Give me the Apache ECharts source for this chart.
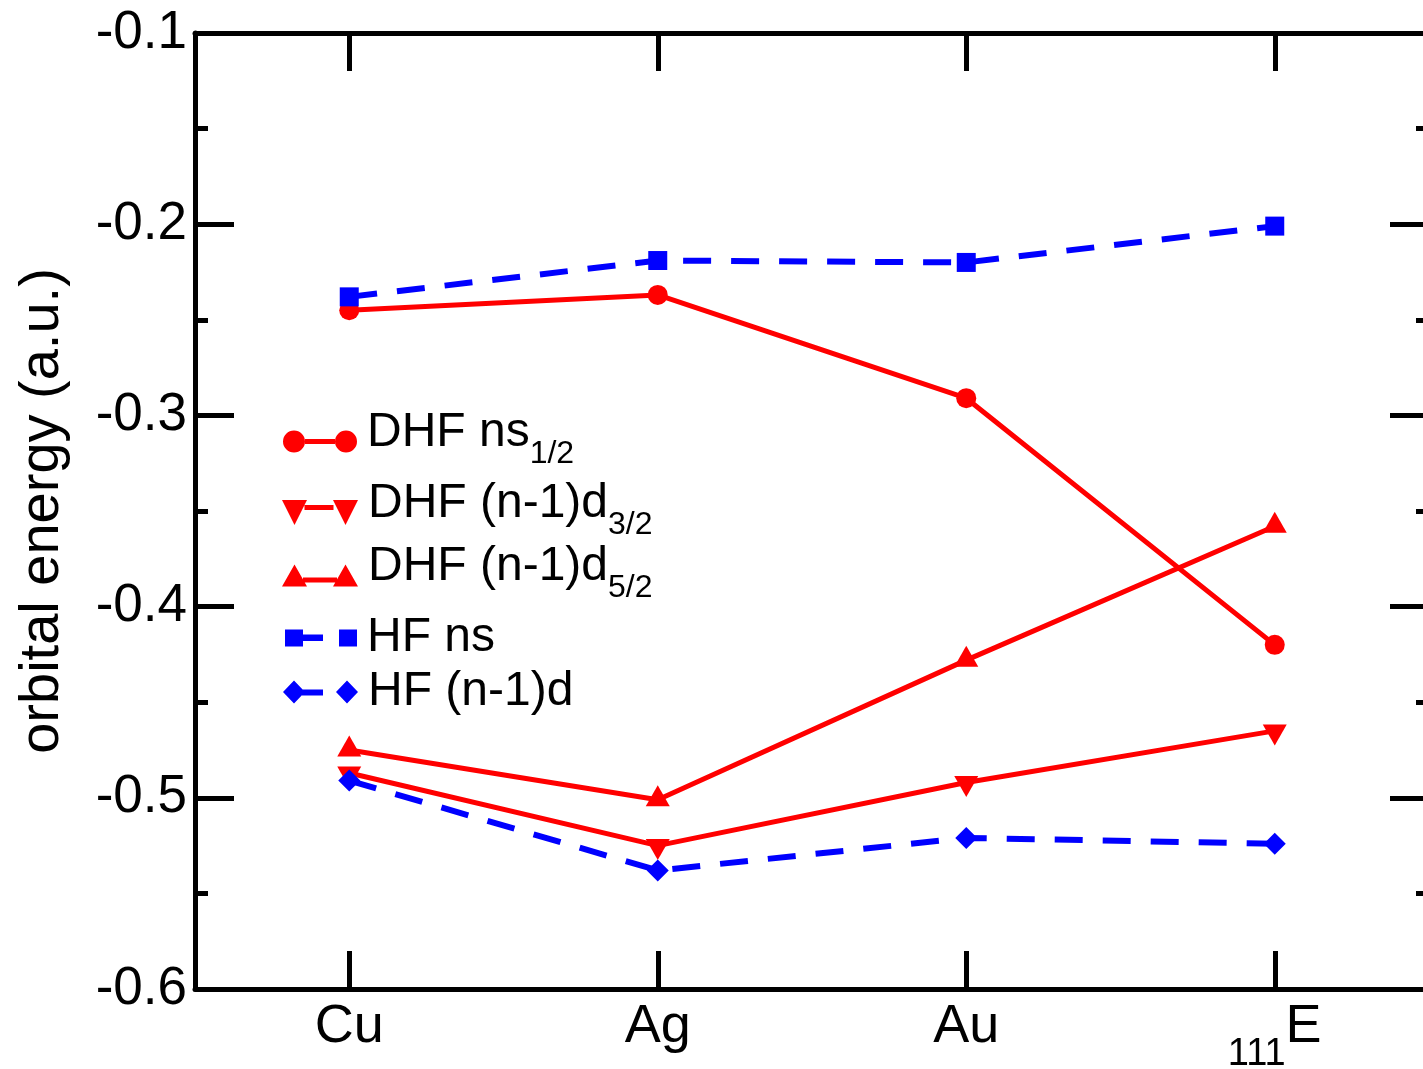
<!DOCTYPE html>
<html>
<head>
<meta charset="utf-8">
<script src="https://cdn.jsdelivr.net/npm/echarts@6/dist/echarts.min.js"></script>
<style>
  html, body { margin: 0; padding: 0; background: #ffffff; }
  #chart { width: 1423px; height: 1069px; }
</style>
</head>
<body>
<div id="chart"></div>
<script>
// Group 11 elements along the x axis
const elements = ['Cu', 'Ag', 'Au', '111E'];

// Orbital energies (a.u.)
const dhfNs12 = [-0.245, -0.237, -0.291, -0.420];
const dhfD32  = [-0.487, -0.525, -0.492, -0.465];
const dhfD52  = [-0.475, -0.501, -0.428, -0.358];
const hfNs    = [-0.238, -0.219, -0.220, -0.201];
const hfD     = [-0.491, -0.538, -0.521, -0.524];

// Legend entries: main text and subscript
const seriesNames = ['DHF ns', 'DHF (n-1)d', 'DHF (n-1)d ', 'HF ns', 'HF (n-1)d'];
const legendMain  = ['DHF ns', 'DHF (n-1)d', 'DHF (n-1)d', 'HF ns', 'HF (n-1)d'];
const legendSub   = ['1/2', '3/2', '5/2', '', ''];

// y axis range
const yMin = -0.6, yMax = -0.1, yStep = 0.1;

const RED = '#ff0000';
const BLUE = '#0000ff';
const FONT = "'Liberation Sans', Arial, Helvetica, sans-serif";

// legend sample icons: marker, connecting stroke, marker
const iconCircle = 'path://M0 11A11 11 0 1 0 22 11A11 11 0 1 0 0 11Z M22 8.5L52 8.5L52 13.5L22 13.5Z M52 11A11 11 0 1 0 74 11A11 11 0 1 0 52 11Z';
const iconDown   = 'path://M0 0L25 0L12.5 25Z M22.5 5L51.5 5L51.5 10L22.5 10Z M51 0L76 0L63.5 25Z';
const iconUp     = 'path://M12.5 0L25 22L0 22Z M21 13L55 13L55 18L21 18Z M63.5 0L76 22L51 22Z';
const iconSquare = 'path://M0 0L18 0L18 17L0 17Z M18 5L38 5L38 11.5L18 11.5Z M54 0L72 0L72 17L54 17Z';
const iconDiamond= 'path://M11 0L22 11.5L11 23L0 11.5Z M19 9L40 9L40 15L19 15Z M64 0L75 11.5L64 23L53 11.5Z';

const legendRich = {
  // spacer between sample and text; its line height sets the block height of subscripted entries
  gap: { width: 5, lineHeight: 65, fontSize: 10 },
  gp: { width: 5, lineHeight: 50, fontSize: 10 },
  m: { fontSize: 48, lineHeight: 50, color: '#000', fontFamily: FONT, verticalAlign: 'top' },
  s: { fontSize: 32, lineHeight: 36, color: '#000', fontFamily: FONT, verticalAlign: 'top', padding: [29, 0, 0, 0] },
  p: { fontSize: 48, lineHeight: 50, color: '#000', fontFamily: FONT }
};

function legendFor(i, icon, w, h, left, top) {
  return {
    data: [seriesNames[i]],
    left: left,
    top: top,
    padding: 0,
    orient: 'vertical',
    selectedMode: false,
    icon: icon,
    itemWidth: w,
    itemHeight: h,
    itemStyle: { borderWidth: 0 },
    textStyle: { rich: legendRich },
    formatter: function () {
      return legendSub[i]
        ? '{gap| }{m|' + legendMain[i] + '}{s|' + legendSub[i] + '}'
        : '{gp| }{p|' + legendMain[i] + '}';
    }
  };
}

const tickStyle = { color: '#000', width: 5 };

const chart = echarts.init(document.getElementById('chart'), null, { renderer: 'canvas' });

const baseLine = {
  type: 'line',
  animation: false,
  emphasis: { disabled: true },
  showAllSymbol: true
};

chart.setOption({
  backgroundColor: '#ffffff',
  animation: false,
  grid: { left: 195, width: 1234, top: 33, bottom: 80, containLabel: false, outerBoundsMode: 'none' },
  legend: [
    legendFor(0, iconCircle, 74, 22, 283, 409),
    legendFor(1, iconDown, 76, 25, 282, 480),
    legendFor(2, iconUp, 76, 22, 282, 543),
    legendFor(3, iconSquare, 72, 17, 285, 614),
    legendFor(4, iconDiamond, 75, 23, 283, 668)
  ],
  xAxis: [
    {
      type: 'category',
      data: elements,
      position: 'bottom',
      boundaryGap: true,
      axisLine: { show: true, lineStyle: tickStyle },
      axisTick: { show: true, inside: true, length: 38, alignWithLabel: true, lineStyle: tickStyle },
      axisLabel: {
        interval: 0,
        margin: 11,
        color: '#000',
        fontFamily: FONT,
        fontSize: 54,
        formatter: function (v) {
          if (v === '111E') return '{s|111}{b|E}';
          return '{a|' + v + '}';
        },
        rich: {
          a: { fontSize: 54, lineHeight: 56, fontFamily: FONT, color: '#000', verticalAlign: 'top' },
          b: { fontSize: 54, lineHeight: 56, fontFamily: FONT, color: '#000', verticalAlign: 'top' },
          s: { fontSize: 38, lineHeight: 42, fontFamily: FONT, color: '#000', verticalAlign: 'top', padding: [36, 0, 0, 0] }
        }
      },
      splitLine: { show: false }
    },
    {
      type: 'category',
      data: elements,
      position: 'top',
      boundaryGap: true,
      axisLine: { show: true, lineStyle: tickStyle },
      axisTick: { show: true, inside: true, length: 38, alignWithLabel: true, interval: 0, lineStyle: tickStyle },
      axisLabel: { show: false },
      splitLine: { show: false }
    }
  ],
  yAxis: [
    {
      type: 'value',
      position: 'left',
      min: yMin,
      max: yMax,
      interval: yStep,
      name: 'orbital energy (a.u.)',
      nameLocation: 'middle',
      nameGap: 124,
      nameTextStyle: { fontSize: 56, color: '#000', fontFamily: FONT },
      axisLine: { show: true, lineStyle: tickStyle },
      axisTick: { show: true, inside: true, length: 39, lineStyle: tickStyle },
      minorTick: { show: true, splitNumber: 2, length: 13, lineStyle: tickStyle },
      axisLabel: {
        margin: 8,
        color: '#000',
        fontFamily: FONT,
        fontSize: 53,
        formatter: function (v) { return v.toFixed(1); }
      },
      splitLine: { show: false }
    },
    {
      type: 'value',
      position: 'right',
      min: yMin,
      max: yMax,
      interval: yStep,
      axisLine: { show: true, lineStyle: tickStyle },
      axisTick: { show: true, inside: true, length: 39, lineStyle: tickStyle },
      minorTick: { show: true, splitNumber: 2, length: 13, lineStyle: tickStyle },
      axisLabel: { show: false },
      splitLine: { show: false }
    }
  ],
  series: [
    Object.assign({}, baseLine, {
      name: seriesNames[0], data: dhfNs12,
      symbol: 'circle', symbolSize: 20,
      itemStyle: { color: RED, borderWidth: 0 },
      lineStyle: { color: RED, width: 5 }
    }),
    Object.assign({}, baseLine, {
      name: seriesNames[1], data: dhfD32,
      symbol: 'triangle', symbolRotate: 180, symbolSize: [24, 21], symbolOffset: [0, 4],
      itemStyle: { color: RED, borderWidth: 0 },
      lineStyle: { color: RED, width: 5 }
    }),
    Object.assign({}, baseLine, {
      name: seriesNames[2], data: dhfD52,
      symbol: 'triangle', symbolSize: [24, 21], symbolOffset: [0, -4],
      itemStyle: { color: RED, borderWidth: 0 },
      lineStyle: { color: RED, width: 5 }
    }),
    Object.assign({}, baseLine, {
      name: seriesNames[3], data: hfNs,
      symbol: 'rect', symbolSize: 19,
      itemStyle: { color: BLUE, borderWidth: 0 },
      lineStyle: { color: BLUE, width: 6, type: [28, 20] }
    }),
    Object.assign({}, baseLine, {
      name: seriesNames[4], data: hfD,
      symbol: 'diamond', symbolSize: 22,
      itemStyle: { color: BLUE, borderWidth: 0 },
      lineStyle: { color: BLUE, width: 6, type: [28, 20] }
    })
  ]
});
</script>
</body>
</html>
